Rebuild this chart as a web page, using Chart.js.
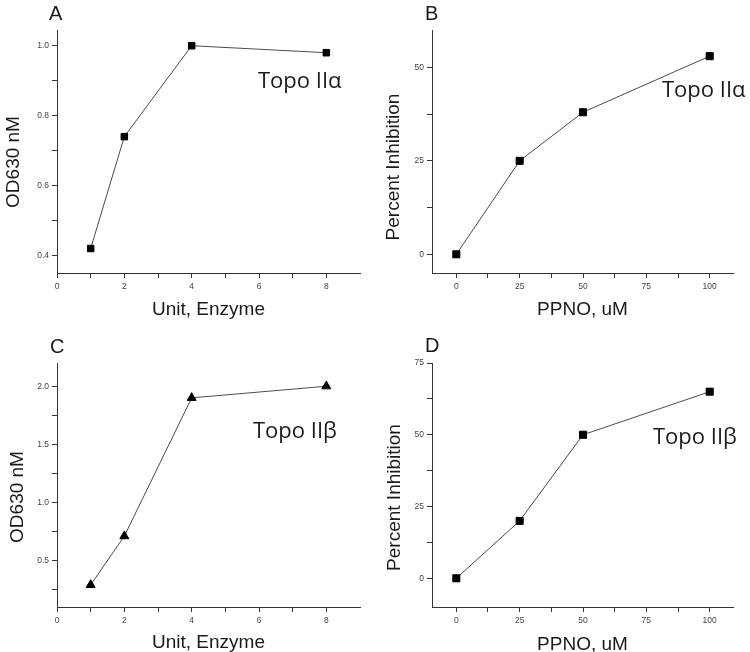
<!DOCTYPE html>
<html>
<head>
    <title>Topo II</title>
    <script src="https://cdn.jsdelivr.net/npm/chart.js"></script>
    <style>
        body { margin: 0; background: #fff; }
        .panel { position: absolute; }
    </style>
</head>
<body>
    <canvas id="chartA" class="panel" width="375" height="326" style="left:0;top:0"></canvas>
    <canvas id="chartB" class="panel" width="375" height="326" style="left:375px;top:0"></canvas>
    <canvas id="chartC" class="panel" width="375" height="326" style="left:0;top:326px"></canvas>
    <canvas id="chartD" class="panel" width="375" height="326" style="left:375px;top:326px"></canvas>

    <script>
        // donnees
        const enzymeUnits = [1, 2, 4, 8];
        const odTopo2a = [0.42, 0.74, 1.0, 0.98];
        const odTopo2b = [0.29, 0.71, 1.9, 2.0];
        const ppnoConc = [0, 25, 50, 100];
        const inhibTopo2a = [0, 25, 38, 53];
        const inhibTopo2b = [0, 20, 50, 65];

        // graduations (toutes) et graduations avec etiquette
        const enzymeTicks = [0, 1, 2, 3, 4, 5, 6, 7, 8];
        const enzymeLabels = [0, 2, 4, 6, 8];
        const ppnoTicks = [0, 12.5, 25, 37.5, 50, 62.5, 75, 87.5, 100];
        const ppnoLabels = [0, 25, 50, 75, 100];
        const odTicksA = [0.4, 0.5, 0.6, 0.7, 0.8, 0.9, 1.0];
        const odLabelsA = [0.4, 0.6, 0.8, 1.0];
        const odTicksC = [0.25, 0.5, 0.75, 1.0, 1.25, 1.5, 1.75, 2.0];
        const odLabelsC = [0.5, 1.0, 1.5, 2.0];
        const inhibTicksB = [0, 12.5, 25, 37.5, 50];
        const inhibLabelsB = [0, 25, 50];
        const inhibTicksD = [0, 12.5, 25, 37.5, 50, 62.5, 75];
        const inhibLabelsD = [0, 25, 50, 75];

        // textes : lettre, annotation, titres d'axes
        const panelText = {
            id: 'panelText',
            afterDraw(chart, args, o) {
                const ctx = chart.ctx, a = chart.chartArea;
                ctx.save();
                ctx.fillStyle = '#1a1a1a';
                ctx.textBaseline = 'alphabetic';
                ctx.font = '20px "Liberation Sans Narrow", "Liberation Sans", Arial';
                ctx.fillText(o.letter, o.letterX, o.letterY);
                ctx.font = '22px "Open Sans"';
                ctx.fillText(o.note, o.noteX, o.noteY);
                ctx.font = '19px "Liberation Sans", Arial';
                ctx.textAlign = 'center';
                ctx.fillText(o.xTitle, (a.left + a.right) / 2, o.xTitleY);
                ctx.translate(o.yTitleX, o.yTitleY);
                ctx.rotate(-Math.PI / 2);
                ctx.textBaseline = 'middle';
                ctx.fillText(o.yTitle, 0, 0);
                ctx.restore();
            }
        };

        // size = largeur (axe y) ou hauteur (axe x) fixe de la zone de l'axe
        function axis(min, max, tickList, labelList, fmt, horizontal, size) {
            return {
                type: 'linear',
                min: min,
                max: max,
                afterFit: s => { if (horizontal) s.height = size; else s.width = size; },
                afterBuildTicks: s => { s.ticks = tickList.map(v => ({ value: v })); },
                grid: { drawOnChartArea: false, drawTicks: true, tickLength: 5, tickColor: '#333' },
                border: { display: true, color: '#333', width: 1 },
                ticks: {
                    autoSkip: false,
                    maxRotation: 0,
                    padding: horizontal ? 4 : 3,
                    color: '#444',
                    font: { family: '"Liberation Sans", Arial', size: 8.5 },
                    callback: v => labelList.includes(v) ? fmt(v) : ''
                }
            };
        }

        function makePanel(id, xs, ys, marker, radius, scales, padding, text) {
            return new Chart(document.getElementById(id), {
                type: 'line',
                data: {
                    datasets: [{
                        data: xs.map((x, i) => ({ x: x, y: ys[i] })),
                        borderColor: '#4a4a4a',
                        borderWidth: 1,
                        pointStyle: marker,
                        pointRadius: radius,
                        pointBackgroundColor: '#000',
                        pointBorderColor: '#000',
                        pointBorderWidth: 1,
                        tension: 0
                    }]
                },
                options: {
                    responsive: false,
                    animation: false,
                    layout: { padding: padding },
                    plugins: { legend: { display: false }, tooltip: { enabled: false }, panelText: text },
                    scales: scales
                },
                plugins: [panelText]
            });
        }

        const one = v => v.toFixed(1);
        const plain = v => String(v);

        makePanel('chartA', enzymeUnits, odTopo2a, 'rect', 4.6, {
            x: axis(0, 9, enzymeTicks, enzymeLabels, plain, true, 53),
            y: axis(0.35, 1.045, odTicksA, odLabelsA, one, false, 57)
        }, { left: 0, top: 30, right: 15, bottom: 0 }, {
            letter: 'A', letterX: 49, letterY: 20,
            note: 'Topo IIα', noteX: 258, noteY: 88,
            xTitle: 'Unit, Enzyme', xTitleY: 315,
            yTitle: 'OD630 nM', yTitleX: 13.5, yTitleY: 162
        });

        makePanel('chartB', ppnoConc, inhibTopo2a, 'rect', 5, {
            x: axis(-9.6, 109.2, ppnoTicks, ppnoLabels, plain, true, 53),
            y: axis(-5, 60, inhibTicksB, inhibLabelsB, plain, false, 57)
        }, { left: 0, top: 30, right: 17, bottom: 0 }, {
            letter: 'B', letterX: 50, letterY: 20,
            note: 'Topo IIα', noteX: 287, noteY: 97,
            xTitle: 'PPNO, uM', xTitleY: 315,
            yTitle: 'Percent Inhibition', yTitleX: 18.5, yTitleY: 167
        });

        makePanel('chartC', enzymeUnits, odTopo2b, 'triangle', 5.2, {
            x: axis(0, 9, enzymeTicks, enzymeLabels, plain, true, 45),
            y: axis(0.1, 2.2, odTicksC, odLabelsC, one, false, 57)
        }, { left: 0, top: 37, right: 15, bottom: 0 }, {
            letter: 'C', letterX: 50, letterY: 27,
            note: 'Topo IIβ', noteX: 253, noteY: 112,
            xTitle: 'Unit, Enzyme', xTitleY: 322,
            yTitle: 'OD630 nM', yTitleX: 17.5, yTitleY: 171
        });

        makePanel('chartD', ppnoConc, inhibTopo2b, 'rect', 5, {
            x: axis(-9.6, 109.2, ppnoTicks, ppnoLabels, plain, true, 45),
            y: axis(-10, 75, inhibTicksD, inhibLabelsD, plain, false, 57)
        }, { left: 0, top: 37, right: 17, bottom: 0 }, {
            letter: 'D', letterX: 50, letterY: 26,
            note: 'Topo IIβ', noteX: 278, noteY: 118,
            xTitle: 'PPNO, uM', xTitleY: 324,
            yTitle: 'Percent Inhibition', yTitleX: 20, yTitleY: 171.5
        });
    </script>
</body>
</html>
